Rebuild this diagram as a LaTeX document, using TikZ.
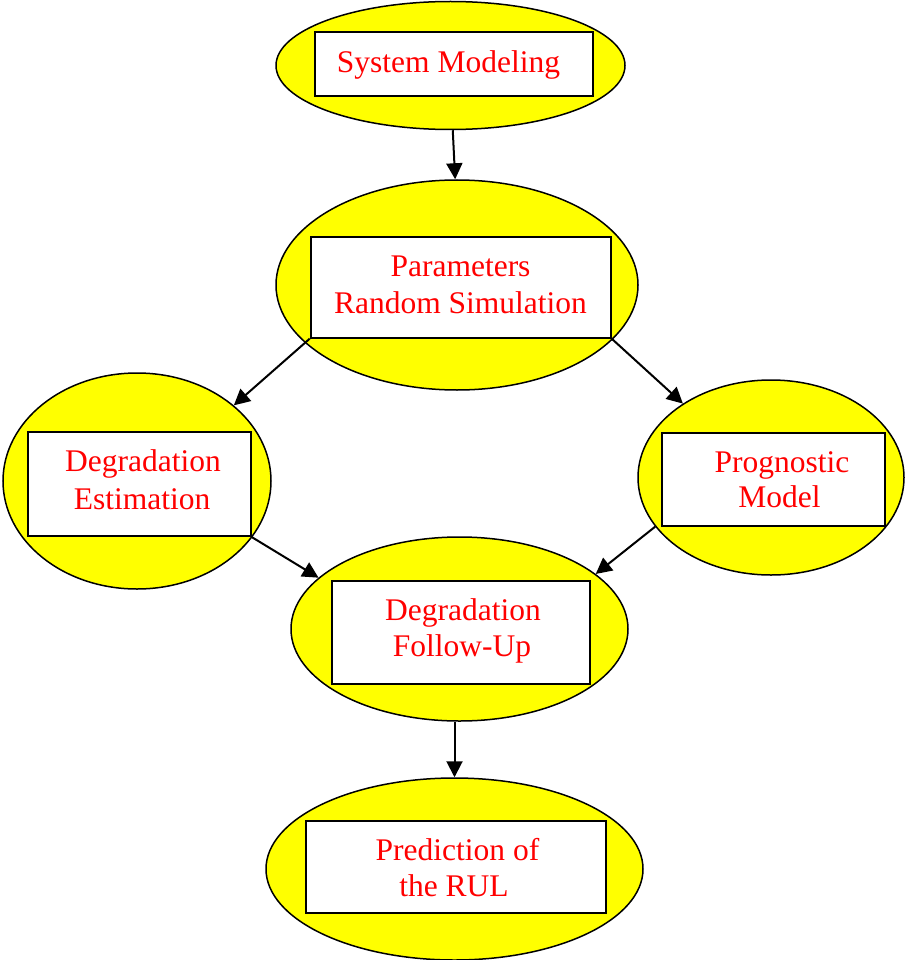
\documentclass[tikz,border=0pt]{standalone}
\usepackage{fontspec}
\setmainfont{Liberation Serif}
\newfontfamily\tnrfont{Liberation Serif}
\usetikzlibrary{arrows.meta,shapes.geometric}
\definecolor{ovalfill}{RGB}{255,255,0}
\definecolor{lblred}{RGB}{255,0,0}
\begin{document}
\begin{tikzpicture}[x=1pt,y=-1pt,
  oval/.style={ellipse,draw=black,line width=1.5pt,fill=ovalfill,inner sep=0pt},
  tbox/.style={rectangle,draw=black,line width=2pt,fill=white,inner sep=0pt},
  lbl/.style={anchor=base,text=lblred,inner sep=0pt,font=\tnrfont\fontsize{31.5}{38}\selectfont},
  conn/.style={line width=2pt,-{Triangle[length=16pt,width=16pt]}}]
\useasboundingbox (0,0) rectangle (904,960);
% ellipses
\node[oval,minimum width=349pt,minimum height=128pt] (e1) at (450.5,65.5) {};
\node[oval,minimum width=362pt,minimum height=210pt] (e2) at (457,285) {};
\node[oval,minimum width=268pt,minimum height=216pt] (e3) at (137,481) {};
\node[oval,minimum width=266pt,minimum height=195pt] (e4) at (771,477.5) {};
\node[oval,minimum width=337pt,minimum height=184pt] (e5) at (459.5,629) {};
\node[oval,minimum width=377pt,minimum height=182pt] (e6) at (454.5,869) {};
% boxes
\node[tbox,minimum width=278pt,minimum height=64pt] (b1) at (454,64) {};
\node[tbox,minimum width=300pt,minimum height=101pt] (b2) at (460.7,287.2) {};
\node[tbox,minimum width=222.7pt,minimum height=104pt] (b3) at (139.3,484) {};
\node[tbox,minimum width=222.7pt,minimum height=93.3pt] (b4) at (773.3,479.3) {};
\node[tbox,minimum width=258pt,minimum height=103pt] (b5) at (461,632.5) {};
\node[tbox,minimum width=300pt,minimum height=92pt] (b6) at (456,867) {};
% labels
\node[lbl] (t1) at (448.5,72.7) {System Modeling};
\node[lbl] (t2a) at (460.5,276.7) {Parameters};
\node[lbl] (t2b) at (460.5,313.3) {Random Simulation};
\node[lbl] (t3a) at (143,471.7) {Degradation};
\node[lbl] (t3b) at (142,509.3) {Estimation};
\node[lbl] (t4a) at (782,472.7) {Prognostic};
\node[lbl] (t4b) at (779.5,507.7) {Model};
\node[lbl] (t5a) at (463,620) {Degradation};
\node[lbl] (t5b) at (462,656.7) {Follow-Up};
\node[lbl] (t6a) at (457.5,860) {Prediction of};
\node[lbl] (t6b) at (454,896.7) {the RUL};
% connectors
\draw[conn] (e1.-88) -- (e2.91);
\draw[conn] (b2.south west) -- (e3.38.4);
\draw[conn] (b2.south east) -- (e4.140.4);
\draw[conn] (b3.south east) -- (e5.160.6);
\draw[conn] (e4.203.3) -- (e5.22.6);
\draw[conn] (e6.north |- e5.south) -- (e6.north);
\end{tikzpicture}
\end{document}
